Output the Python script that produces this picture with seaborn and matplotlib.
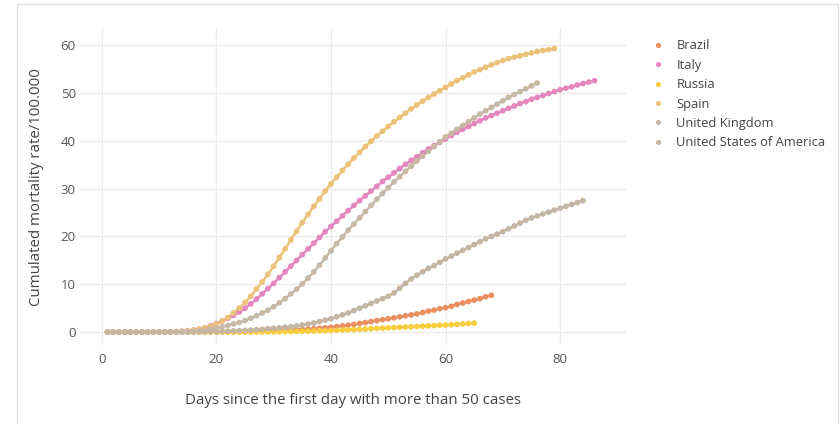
#!/usr/bin/env python3

import pandas as pd
import matplotlib
matplotlib.use("Agg")
import matplotlib.pyplot as plt
from matplotlib.patches import Rectangle
import seaborn as sns

# cumulated mortality rate per 100.000, one value per day (day 1 .. last day)
brazil = [0, 0, 0, 0, 0, 0, 0, 0, 0, 0, 0, 0, 0, 0, 0,
          0.01, 0.02, 0.03, 0.04, 0.05, 0.07, 0.09, 0.11, 0.14, 0.17, 0.2, 0.22, 0.24, 0.27, 0.3,
          0.35, 0.4, 0.45, 0.5, 0.55, 0.62, 0.7, 0.8, 0.9, 1.0,
          1.15, 1.3, 1.45, 1.6, 1.8, 2.0, 2.2, 2.4, 2.6, 2.8,
          3.0, 3.2, 3.4, 3.6, 3.8, 4.1, 4.4, 4.6, 4.9, 5.1,
          5.4, 5.8, 6.1, 6.4, 6.7, 7.0, 7.4, 7.7]

italy = [0, 0, 0, 0, 0, 0, 0, 0, 0, 0,
         0.02, 0.05, 0.1, 0.15, 0.25, 0.4, 0.6, 0.9, 1.3, 1.8,
         2.3, 2.9, 3.5, 4.2, 5.0, 5.9, 6.9, 8.0, 9.1, 10.2,
         11.4, 12.6, 13.8, 15.0, 16.2, 17.4, 18.6, 19.8, 21.0, 22.1,
         23.2, 24.3, 25.4, 26.5, 27.5, 28.5, 29.5, 30.5, 31.5, 32.4,
         33.3, 34.2, 35.1, 35.9, 36.7, 37.5, 38.3, 39.0, 39.7, 40.4,
         41.1, 41.8, 42.4, 43.0, 43.6, 44.2, 44.8, 45.3, 45.8, 46.3,
         46.8, 47.3, 47.8, 48.2, 48.7, 49.1, 49.5, 49.9, 50.3, 50.7,
         51.0, 51.3, 51.7, 52.0, 52.3, 52.6]

russia = [0, 0, 0, 0, 0, 0, 0, 0, 0, 0, 0, 0, 0, 0, 0,
          0, 0, 0, 0, 0, 0, 0, 0, 0, 0,
          0.01, 0.02, 0.03, 0.04, 0.05, 0.07, 0.09, 0.11, 0.13, 0.16,
          0.19, 0.22, 0.26, 0.3, 0.34, 0.38, 0.43, 0.48, 0.53, 0.58,
          0.64, 0.7, 0.76, 0.82, 0.88, 0.94, 1.0, 1.06, 1.12, 1.18,
          1.24, 1.3, 1.36, 1.42, 1.48, 1.55, 1.62, 1.7, 1.78, 1.86]

spain = [0, 0, 0, 0, 0, 0, 0, 0, 0.01, 0.02,
         0.05, 0.08, 0.12, 0.2, 0.3, 0.45, 0.65, 0.9, 1.2, 1.7,
         2.3, 3.0, 4.0, 5.0, 6.2, 7.5, 9.0, 10.5, 12.1, 13.8,
         15.6, 17.4, 19.3, 21.1, 22.9, 24.6, 26.3, 27.9, 29.5, 31.0,
         32.4, 33.8, 35.1, 36.4, 37.6, 38.8, 39.9, 41.0, 42.0, 43.0,
         44.0, 44.9, 45.8, 46.7, 47.5, 48.3, 49.1, 49.8, 50.5, 51.2,
         51.9, 52.6, 53.2, 53.8, 54.4, 54.9, 55.4, 55.9, 56.4, 56.8,
         57.2, 57.5, 57.8, 58.1, 58.4, 58.7, 58.9, 59.1, 59.3]

uk = [0, 0, 0, 0, 0, 0, 0, 0, 0, 0, 0, 0,
      0.02, 0.05, 0.1, 0.15, 0.25, 0.4, 0.6, 0.85,
      1.1, 1.4, 1.7, 2.0, 2.4, 2.9, 3.4, 4.0, 4.6, 5.3,
      6.1, 7.0, 8.0, 9.0, 10.1, 11.3, 12.6, 14.0, 15.5, 17.0,
      18.5, 19.9, 21.3, 22.6, 23.9, 25.2, 26.5, 27.8, 29.0, 30.2,
      31.4, 32.5, 33.6, 34.7, 35.8, 36.8, 37.8, 38.8, 39.8, 40.8,
      41.6, 42.4, 43.2, 44.0, 44.8, 45.6, 46.3, 47.0, 47.7, 48.4,
      49.1, 49.7, 50.3, 50.9, 51.5, 52.1]

usa = [0, 0, 0, 0, 0, 0, 0, 0, 0, 0, 0, 0, 0, 0,
       0.02, 0.03, 0.05, 0.07, 0.1, 0.13,
       0.17, 0.2, 0.25, 0.3, 0.35, 0.4, 0.5, 0.6, 0.7, 0.8,
       0.9, 1.0, 1.15, 1.3, 1.5, 1.7, 1.9, 2.2, 2.5, 2.8,
       3.2, 3.6, 4.0, 4.5, 5.0, 5.5, 6.0, 6.5, 7.0, 7.5,
       8.2, 9.2, 10.2, 11.1, 11.9, 12.6, 13.3, 13.9, 14.6, 15.3,
       15.9, 16.5, 17.1, 17.7, 18.3, 18.9, 19.5, 20.0, 20.5, 21.0,
       21.6, 22.2, 22.8, 23.4, 23.9, 24.3, 24.7, 25.1, 25.5, 25.9,
       26.3, 26.7, 27.1, 27.5]

countries = ["Brazil", "Italy", "Russia", "Spain", "United Kingdom", "United States of America"]
series = [brazil, italy, russia, spain, uk, usa]
colors = ["#E98F60", "#E487BF", "#F8CD3E", "#EBC277", "#C8B9A6", "#C4B6A3"]

x_ticks = [0, 20, 40, 60, 80]
y_ticks = [0, 10, 20, 30, 40, 50, 60]

rows = []
for name, vals in zip(countries, series):
	for day, v in enumerate(vals, start=1):
		rows.append({"country": name, "day": day, "rate": v})
df = pd.DataFrame(rows)

sns.set_theme(style="white")
plt.rcParams["font.family"] = ["Open Sans", "DejaVu Sans"]

fig = plt.figure(figsize=(8.4, 4.24), dpi=100)
ax = fig.add_axes([80 / 840, 1 - 345 / 424, 546 / 840, 316 / 424])

palette = dict(zip(countries, colors))
sns.lineplot(data=df, x="day", y="rate", hue="country", palette=palette,
			 linewidth=1.8, ax=ax, legend=False, zorder=2)
sns.scatterplot(data=df, x="day", y="rate", hue="country", palette=palette,
				s=17, linewidth=0, ax=ax, legend=True, zorder=3)

ax.set_xlim(-3.8, 91.5)
ax.set_ylim(-2.7, 63.4)
ax.set_xticks(x_ticks)
ax.set_yticks(y_ticks)
ax.grid(True, color="#EBEBEB", linewidth=1)
ax.set_axisbelow(True)
for s in ax.spines.values():
	s.set_visible(False)
ax.tick_params(axis="both", length=0, labelsize=9.5, labelcolor="#555555")
ax.tick_params(axis="x", pad=6)
ax.tick_params(axis="y", pad=3)
ax.set_xlabel("Days since the first day with more than 50 cases", fontsize=10.8, color="#444444", labelpad=19)
ax.set_ylabel("Cumulated mortality rate/100.000", fontsize=10.8, color="#444444", labelpad=12)

handles, labels = ax.get_legend_handles_labels()
ax.get_legend().remove()
fig.legend(handles, labels, loc="upper left", bbox_to_anchor=(648 / 840, 1 - 34 / 424),
		   frameon=False, fontsize=9.3, labelcolor="#444444", handletextpad=1.0,
		   labelspacing=0.5, handlelength=0.8, markerscale=0.9, borderaxespad=0)

# thin frame of the original screenshot
fig.patches.append(Rectangle((17 / 840, -0.01), 821 / 840, 1 - 4 / 424 + 0.01,
							 transform=fig.transFigure, fill=False,
							 edgecolor="#E2E2E2", linewidth=1))

fig.savefig("out.png", dpi=100, facecolor="white")
